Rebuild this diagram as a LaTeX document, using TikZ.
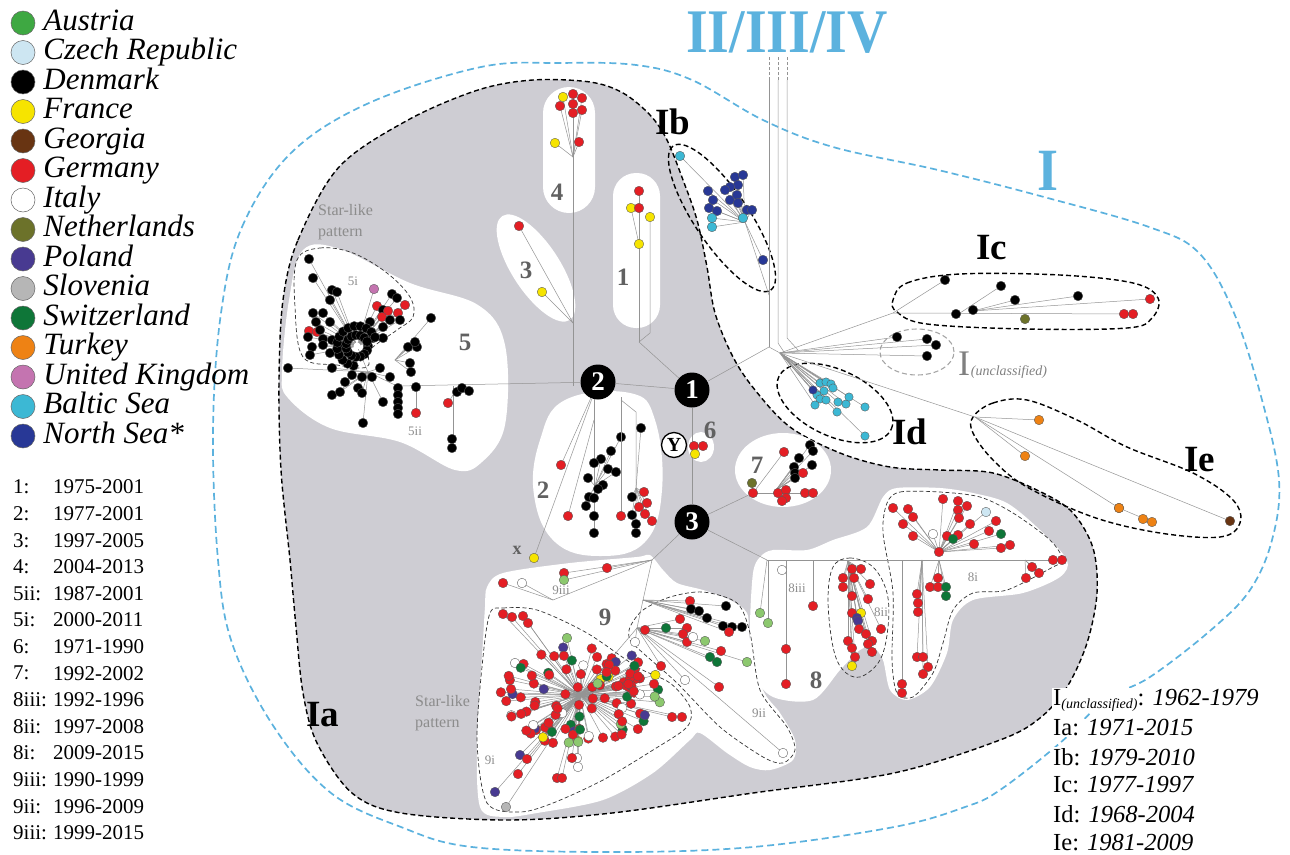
\documentclass[tikz,border=0pt]{standalone}
\usepackage{fontspec}
\setmainfont{Liberation Serif}
\usetikzlibrary{positioning}

\definecolor{ltblue}{RGB}{92,178,222}
\definecolor{iagrey}{RGB}{206,205,211}
\definecolor{austria}{RGB}{62,168,66}
\definecolor{austrialt}{RGB}{140,200,110}
\definecolor{czech}{RGB}{205,230,242}
\definecolor{denmark}{RGB}{0,0,0}
\definecolor{france}{RGB}{246,228,0}
\definecolor{georgia}{RGB}{104,52,18}
\definecolor{germany}{RGB}{228,30,36}
\definecolor{italy}{RGB}{255,255,255}
\definecolor{dutch}{RGB}{108,114,42}
\definecolor{poland}{RGB}{72,58,145}
\definecolor{slovenia}{RGB}{182,182,182}
\definecolor{swiss}{RGB}{14,118,56}
\definecolor{turkey}{RGB}{238,130,20}
\definecolor{ukpink}{RGB}{196,116,176}
\definecolor{baltic}{RGB}{60,184,212}
\definecolor{northsea}{RGB}{40,56,150}

% one haplotype dot, and a fan of links from a junction to a list of dots
\newcommand\hdot[4][4.8]{\filldraw[fill=#4, draw=black!65, line width=.35pt] (#2,#3) circle[radius=#1];}
\newcommand\fan[3][4.8]{%
  \foreach \x/\y/\col in {#3}{\draw[link] (#2) -- (\x,\y);}%
  \foreach \x/\y/\col in {#3}{\hdot[#1]{\x}{\y}{\col}}}
\newcommand\pts[2][4.8]{\foreach \x/\y/\col in {#2}{\hdot[#1]{\x}{\y}{\col}}}

\begin{document}
\begin{tikzpicture}[x=1pt, y=-1pt,
    link/.style={draw=black!42, line width=0.5pt},
    hub/.style={circle, fill=black, text=white, inner sep=0pt, minimum size=35pt, font=\bfseries\fontsize{27}{27}\selectfont},
    ynode/.style={circle, draw=black, line width=1.3pt, fill=white, inner sep=0pt, minimum size=25pt, font=\bfseries\fontsize{20}{20}\selectfont},
    cladeline/.style={draw=black, line width=1.4pt, dash pattern=on 5pt off 3pt},
    subline/.style={draw=black!80, line width=.7pt, dash pattern=on 4pt off 2.5pt},
    blob/.style={fill=white},
    grouplbl/.style={text=black!62, font=\bfseries\fontsize{25}{25}\selectfont, inner sep=0pt},
    sublbl/.style={text=black!45, font=\fontsize{13}{13}\selectfont, inner sep=0pt},
    starlbl/.style={text=black!45, font=\fontsize{16}{21}\selectfont, inner sep=0pt, align=left, anchor=west},
    cladelbl/.style={font=\bfseries\fontsize{37}{37}\selectfont, inner sep=0pt},
    legdot/.style={circle, draw=black!60, line width=.5pt, minimum size=24pt, inner sep=0pt},
    legtext/.style={font=\itshape\fontsize{31}{31}\selectfont, inner sep=0pt, text height=21pt, text depth=7pt},
    datetxt/.style={font=\fontsize{21}{21}\selectfont, inner sep=0pt, anchor=west},
    agetxt/.style={font=\fontsize{24.5}{24.5}\selectfont, anchor=west, fill=white, inner sep=1pt}
]
    \useasboundingbox (0,0) rectangle (1290,854);

    % clade I outline
    \draw[ltblue, line width=1.7pt, dash pattern=on 7pt off 4pt] plot[smooth cycle, tension=.6] coordinates {(221,313) (242,227) (291,153) (369,103) (481,67) (560,63) (636,65) (692,80) (763,120) (833,147) (938,170) (1044,197) (1149,227) (1199,253) (1234,313) (1262,400) (1279,480) (1272,540) (1250,590) (1211,630) (1150,677) (1105,700) (1060,743) (1000,790) (965,807) (894,827) (753,847) (612,852) (472,847) (401,827) (331,793) (274,727) (232,643) (218,560) (213,430)};

    % clade Ia
    \filldraw[fill=iagrey, cladeline] plot[smooth cycle, tension=.55] coordinates {(283,300) (298,240) (339,167) (408,120) (478,90) (533,80) (590,82) (623,93) (650,115) (667,140) (683,180) (697,220) (707,267) (715,313) (733,357) (755,390) (790,427) (840,453) (890,467) (940,470) (993,473) (1043,493) (1073,513) (1093,548) (1097,593) (1087,643) (1067,687) (1040,718) (1000,740) (894,773) (753,793) (612,813) (507,820) (401,813) (352,793) (317,743) (303,693) (296,627) (290,560) (281,470) (279,380)};

    % white group areas
    \fill[blob, rounded corners=26pt] (543,87) rectangle (595,213);
    \fill[blob, rounded corners=23pt] (613,173) rectangle (660,328);
    \fill[blob, rotate around={-57:(536,268)}] (536,268) ellipse[x radius=62pt, y radius=24pt];
    \fill[blob] plot[smooth cycle, tension=.7] coordinates {(565,400) (630,393) (655,420) (662,490) (645,542) (600,556) (555,542) (534,495) (540,440)};
    \fill[blob] (701,447) ellipse[x radius=13pt, y radius=15pt];
    \fill[blob] (783,470) ellipse[x radius=48pt, y radius=37pt];
    \fill[blob] plot[smooth cycle, tension=.6] coordinates {(282,372) (289,300) (303,250) (340,249) (410,283) (478,305) (505,345) (505,425) (482,462) (455,470) (400,442) (330,428) (288,398)};
    \fill[blob] plot[smooth cycle, tension=.5] coordinates {(487,587) (503,573) (570,563) (637,557) (650,555) (663,570) (677,583) (703,590) (730,600) (747,613) (750,640) (763,690) (780,713) (795,740) (793,760) (770,770) (750,767) (727,753) (700,733) (690,740) (653,773) (603,800) (537,813) (503,817) (480,807) (477,740) (483,640) (485,607)};
    \fill[blob] plot[smooth cycle, tension=.5] coordinates {(760,557) (773,550) (807,550) (833,540) (867,527) (883,497) (897,488) (940,488) (973,493) (1007,503) (1040,530) (1067,560) (1060,577) (1023,593) (973,600) (953,620) (947,653) (930,687) (907,700) (890,690) (883,660) (873,647) (860,650) (840,670) (813,700) (773,697) (753,673) (750,627) (753,573)};

    % sub-group and clade outlines
    \draw[subline] plot[smooth cycle, tension=.6] coordinates {(297,260) (320,248) (353,253) (387,273) (410,297) (413,317) (397,330) (370,350) (367,367) (337,365) (303,357) (295,307)};
    \draw[subline] plot[smooth cycle, tension=.5] coordinates {(490,613) (503,608) (537,610) (587,633) (637,667) (670,683) (690,707) (687,727) (653,750) (603,780) (553,803) (520,812) (487,803) (477,740) (483,657)};
    \draw[subline] plot[smooth cycle, tension=.5] coordinates {(630,627) (643,610) (670,597) (703,592) (737,603) (750,633) (760,690) (787,727) (795,750) (783,763) (763,757) (720,727) (677,683) (643,653) (630,640)};
    \draw[subline] plot[smooth cycle, tension=.6] coordinates {(833,567) (850,558) (873,567) (887,593) (888,627) (880,660) (860,677) (843,670) (833,647) (828,600)};
    \draw[subline] plot[smooth cycle, tension=.5] coordinates {(887,503) (900,492) (940,492) (980,497) (1013,513) (1050,540) (1063,560) (1053,567) (1007,590) (973,593) (953,610) (943,643) (933,673) (913,697) (897,693) (892,660) (893,593) (883,533)};
    \draw[cladeline, rotate around={-56:(722,218)}] (722,218) ellipse[x radius=87pt, y radius=27pt];
    \draw[cladeline, rotate around={-25:(835,403)}] (835,403) ellipse[x radius=62pt, y radius=33pt];
    \draw[black!35, line width=1.1pt, dash pattern=on 5pt off 3pt] (917,352) ellipse[x radius=37pt, y radius=23pt];
    \draw[cladeline] plot[smooth cycle, tension=.6] coordinates {(893,300) (907,283) (960,274) (1060,275) (1133,283) (1158,298) (1152,318) (1127,328) (1027,329) (927,324) (897,312)};
    \draw[cladeline] plot[smooth cycle, tension=.6] coordinates {(973,417) (993,403) (1027,400) (1077,420) (1127,447) (1193,473) (1233,500) (1240,523) (1220,537) (1160,533) (1093,517) (1027,487) (993,460) (973,433)};

    % central haplotypes
    \node[hub] (n1) at (692,390) {1};
    \node[hub] (n2) at (598,382) {2};
    \node[hub] (n3) at (692,522) {3};
    \node[ynode] (ny) at (674,445) {Y};

    \coordinate (s5) at (357,346);
    \coordinate (c5) at (368,372);
    \coordinate (h5) at (397,386);
    \coordinate (c5b) at (395,360);
    \coordinate (d5) at (453,395);
    \coordinate (j4) at (573,157);
    \coordinate (j3) at (573,323);
    \coordinate (j1) at (639,342);
    \coordinate (j2b) at (595,486);
    \coordinate (j2c) at (636,488);
    \coordinate (jI) at (769,347);
    \coordinate (jd) at (780,353);
    \coordinate (jb0) at (769,295);
    \coordinate (jb) at (745,222);
    \coordinate (jc) at (893,313);
    \coordinate (jc2) at (960,313);
    \coordinate (jc3) at (973,311);
    \coordinate (je) at (975,417);
    \coordinate (j7) at (753,493);
    \coordinate (j7b) at (776,490);
    \coordinate (j8) at (767,560);
    \coordinate (j8ii) at (848,561);
    \coordinate (j8a) at (922,560);
    \coordinate (j8b) at (939,560);
    \coordinate (j8c) at (1025,560);
    \coordinate (j8u) at (939,552);
    \coordinate (j9) at (652,560);
    \coordinate (j9b) at (643,600);
    \coordinate (j9c) at (637,628);
    \coordinate (j9iii) at (553,600);
    \coordinate (s9) at (580,695);

    % backbone
    \draw[link] (c5) -- (s5);
    \draw[link] (c5) -- (h5) -- (n2) -- (n1);
    \draw[link] (n1) -- (n3);
    \draw[link] (n1) -- (j1);
    \draw[link] (n1) -- (jI) -- (jd);
    \draw[link] (n3) -- (j7);
    \draw[link] (n3) -- (j8);
    \draw[link] (n3) -- (j9) -- (j9b) -- (j9c) -- (s9);

    % group 5
    \draw[link] (398,386) -- (398,413);
    \draw[link] (416,386) -- (416,413);
    \draw[link] (453,386) -- (453,448);
    \fan{s5}{309/259/denmark, 313/278/denmark, 332/290/denmark, 337/292/denmark, 330/300/denmark,
      313/313/denmark, 323/313/denmark, 316/322/denmark, 330/322/denmark, 309/331/germany,
      317/332/germany, 320/330/denmark, 308/337/denmark, 323/339/denmark, 332/340/denmark,
      312/347/denmark, 323/345/denmark, 340/347/denmark, 330/353/denmark, 310/355/denmark,
      374/289/ukpink, 392/294/denmark, 397/298/denmark, 377/306/germany, 405/305/germany,
      383/310/denmark, 388/311/germany, 398/313/germany, 382/317/germany, 390/320/denmark,
      400/320/denmark, 383/327/denmark, 370/322/denmark, 383/338/denmark, 373/338/denmark}
    \fan{c5}{288/368/denmark, 332/368/denmark, 352/375/denmark, 362/377/denmark, 372/377/denmark,
      380/368/denmark, 390/377/denmark, 332/395/denmark, 340/392/denmark, 345/382/denmark,
      358/388/denmark, 362/393/denmark, 383/402/denmark, 363/423/denmark}
    \fan{c5b}{431/318/denmark, 408/347/denmark, 417/347/denmark, 415/342/denmark, 410/363/denmark, 411/372/denmark}
    \fan{d5}{457/392/denmark, 462/388/denmark, 469/391/denmark, 448/403/germany}
    \pts{398/388/denmark, 398/395/denmark, 398/402/denmark, 398/408/denmark, 398/414/denmark,
      416/387/denmark, 416/413/germany, 452/439/denmark, 452/448/denmark}
    \foreach \a in {0,24,...,336}{
        \pgfmathsetmacro\rx{357+11*cos(\a)}
        \pgfmathsetmacro\ry{346+11*sin(\a)}
        \hdot{\rx}{\ry}{denmark}}
    \foreach \a in {100,118,...,350}{
        \pgfmathsetmacro\rx{357+20*cos(\a)}
        \pgfmathsetmacro\ry{346+20*sin(\a)}
        \hdot{\rx}{\ry}{denmark}}
    \fill[white] (357,346) circle[radius=3.5];

    % groups 4, 3, 1
    \draw[link] (573,386) -- (j4);
    \fan{j4}{563/97/france, 573/94/germany, 582/98/germany, 560/106/germany, 573/104/germany,
      582/110/germany, 573/113/germany, 579/142/germany, 555/143/france}
    \fan{j3}{519/226/germany, 542/292/france}
    \draw[link] (j1) -- (639,191);
    \draw[link] (j1) -- (650,333) -- (650,217);
    \draw[link] (639,244) -- (631,208);
    \pts{639/191/germany, 631/208/france, 639/208/germany, 650/217/france, 639/244/france}

    % group 2
    \fan{n2}{561/465/germany, 534/558/france}
    \draw[link] (594,399) -- (594,533);
    \draw[link] (594,420) -- (568,516);
    \fan{j2b}{621/437/denmark, 611/451/denmark, 601/459/denmark, 608/469/denmark, 616/472/denmark,
      588/478/denmark, 603/485/denmark, 598/489/denmark, 589/497/denmark}
    \pts{568/516/germany, 594/463/denmark, 594/498/denmark, 594/516/denmark, 594/533/denmark, 586/506/denmark}
    \draw[link] (621,397) -- (621,516);
    \draw[link] (621,400) -- (636,412) -- (636,533);
    \fan{j2c}{641/428/denmark, 644/492/germany, 647/503/germany, 639/507/germany, 645/514/germany,
      652/521/germany, 632/497/denmark, 632/515/denmark}
    \pts{621/516/germany, 636/524/denmark, 636/533/denmark}

    % group 6
    \pts{694/446/germany, 703/446/germany, 695/454/france}

    % clade I: Ib, Ic, I(unclassified), Id, Ie
    \draw[link] (jI) -- (769,80);
    \draw[link] (784,352) -- (778,343) -- (778,80);
    \draw[link] (798,350) -- (787,338) -- (787,80);
    \draw[link, densely dashed] (769,80) -- (769,57) (778,80) -- (778,57) (787,80) -- (787,57);
    \draw[link] (jb0) -- (jb);
    \fan{jb}{680/156/baltic, 735/177/northsea, 743/175/northsea, 738/185/northsea, 730/187/northsea,
      725/190/northsea, 708/191/northsea, 713/200/northsea, 730/200/northsea, 737/195/northsea,
      738/203/northsea, 709/208/northsea, 717/211/northsea, 747/210/northsea, 752/210/northsea,
      763/260/northsea, 712/218/baltic, 712/227/baltic, 743/218/baltic}
    \draw[link] (jd) -- (jc);
    \draw[link] (jc) -- (1133,314);
    \fan{jc}{945/280/denmark}
    \fan{jc2}{1001/286/denmark}
    \fan{jc3}{1015/300/denmark, 1078/296/denmark, 1150/299/germany}
    \pts{956/314/denmark, 973/310/denmark, 1124/314/germany, 1133/314/germany, 1025/319/dutch}
    \fan{jd}{897/337/denmark, 927/339/denmark, 936/345/denmark, 927/356/denmark}
    \fan[4.2]{jd}{820/383/baltic, 826/382/baltic, 831/384/baltic, 833/388/baltic, 824/391/baltic,
      817/395/baltic, 820/399/baltic, 826/400/baltic, 815/405/baltic, 838/402/baltic,
      846/404/baltic, 849/397/baltic, 837/412/baltic, 865/407/baltic, 865/436/baltic, 813/390/northsea}
    \draw[link] (jd) -- (je);
    \fan{je}{1039/420/turkey, 1025/456/turkey, 1119/508/turkey, 1230/521/georgia}
    \draw[link] (1119,508) -- (1152,522);
    \pts{1119/508/turkey, 1143/519/turkey, 1152/522/turkey}

    % group 7
    \draw[link] (j7) -- (813,493);
    \fan{j7}{752/483/dutch, 784/452/germany}
    \fan{j7b}{810/445/denmark, 813/451/denmark, 799/458/denmark, 812/465/denmark, 794/467/denmark,
      795/473/denmark, 795/478/denmark, 803/473/germany}
    \pts{753/493/germany, 778/493/germany, 786/490/germany, 786/498/germany, 782/501/germany, 805/493/germany, 813/493/germany}

    % group 8
    \draw[link] (j8) -- (1062,560);
    \draw[link] (768,560) -- (768,623);
    \draw[link] (767,560) -- (760,613);
    \draw[link] (786,560) -- (786,684);
    \draw[link] (813,560) -- (813,606);
    \pts{768/623/austrialt, 760/613/austrialt, 782/570/italy, 786/649/germany, 786/684/germany, 813/606/germany}
    \fan{j8ii}{852/569/germany, 861/569/germany, 843/578/germany, 854/578/germany, 843/587/germany,
      870/584/germany, 852/596/germany, 868/599/germany, 861/613/france, 852/613/germany,
      857/618/poland, 858/621/poland, 859/629/germany, 866/634/germany, 881/629/germany,
      848/641/germany, 872/641/germany, 868/644/germany, 872/652/germany, 852/648/germany,
      855/657/germany, 852/666/france}
    \draw[link] (902,560) -- (902,693);
    \pts{902/684/germany, 902/693/germany}
    \fan{j8a}{917/594/germany, 918/603/germany, 918/612/germany, 917/657/germany, 923/657/germany,
      928/667/germany, 923/674/germany}
    \fan{j8b}{938/578/germany, 930/587/germany, 938/587/germany, 946/587/swiss, 946/596/swiss}
    \fan{j8c}{1032/567/germany, 1039/573/germany, 1026/578/germany}
    \pts{1053/560/germany, 1062/560/germany}
    \fan{j8u}{893/508/germany, 908/509/germany, 913/517/germany, 903/524/germany, 913/536/germany,
      943/499/germany, 958/501/germany, 967/506/germany, 958/510/germany, 959/518/germany,
      970/524/germany, 947/536/germany, 958/535/germany, 974/544/germany, 996/521/germany,
      989/531/germany, 1001/548/germany, 1010/545/germany, 933/534/italy, 986/512/czech,
      1001/534/swiss, 953/539/swiss}
    \pts{939/552/germany}

    % group 9
    \draw[link] (j9) -- (j9iii);
    \fan{j9}{607/568/germany, 564/573/germany, 564/580/austrialt}
    \fan{j9iii}{503/583/germany, 522/583/italy}
    \fan{j9b}{690/601/germany, 691/609/denmark, 699/611/denmark, 707/618/denmark, 726/606/denmark,
      723/626/denmark, 732/627/denmark, 742/627/denmark, 729/632/germany}
    \fan{j9c}{680/619/germany, 687/628/germany, 683/634/germany, 687/642/germany, 645/630/germany,
      666/628/swiss, 693/637/italy, 635/642/italy, 685/680/italy, 783/753/italy,
      705/641/austrialt, 747/662/austrialt, 721/651/germany, 710/657/swiss, 717/662/swiss,
      661/666/germany, 719/687/germany}
    \pgfmathsetseed{2718}
    \foreach \i in {1,...,115}{
        \pgfmathsetmacro\ang{360*rnd}
        \pgfmathsetmacro\rad{8+56*sqrt(rnd)}
        \pgfmathtruncatemacro\kk{100*rnd}
        \draw[link] (s9) -- ({580+1.3*\rad*cos(\ang)},{695+0.8*\rad*sin(\ang)});}
    \fan{s9}{503/614/germany, 512/617/germany, 523/616/germany, 528/623/germany, 567/638/austrialt,
      520/755/poland, 495/792/poland, 506/807/slovenia, 527/759/germany, 518/774/germany,
      557/778/germany, 562/778/germany, 577/758/italy, 578/767/italy, 572/758/germany,
      578/741/france, 672/717/germany, 682/717/germany, 515/663/italy}
    \pgfmathsetseed{2718}
    \foreach \i in {1,...,115}{
        \pgfmathsetmacro\ang{360*rnd}
        \pgfmathsetmacro\rad{8+56*sqrt(rnd)}
        \pgfmathtruncatemacro\kk{100*rnd}
        \pgfmathsetmacro\sx{580+1.3*\rad*cos(\ang)}
        \pgfmathsetmacro\sy{695+0.8*\rad*sin(\ang)}
        \ifnum\kk<58 \def\col{germany}\else\ifnum\kk<72 \def\col{swiss}\else\ifnum\kk<82 \def\col{poland}\else\ifnum\kk<91 \def\col{italy}\else\ifnum\kk<96 \def\col{france}\else\def\col{austrialt}\fi\fi\fi\fi\fi
        \hdot{\sx}{\sy}{\col}}

    % labels in the network
    \node[grouplbl] (lbl4) at (557,192) {4};
    \node[grouplbl] (lbl3) at (526,270) {3};
    \node[grouplbl] (lbl1) at (623,277) {1};
    \node[grouplbl] (lbl2) at (543,490) {2};
    \node[grouplbl] (lbl5) at (465,342) {5};
    \node[grouplbl] (lbl6) at (710,430) {6};
    \node[grouplbl] (lbl7) at (757,465) {7};
    \node[grouplbl] (lbl8) at (816,680) {8};
    \node[grouplbl] (lbl9) at (605,617) {9};
    \node[grouplbl, font=\bfseries\fontsize{18}{18}\selectfont] (lblx) at (517,550) {x};
    \node[sublbl] (l5i) at (353,281) {5i};
    \node[sublbl] (l5ii) at (415,431) {5ii};
    \node[sublbl] (l9iii) at (561,590) {9iii};
    \node[sublbl] (l9ii) at (759,713) {9ii};
    \node[sublbl] (l9i) at (490,760) {9i};
    \node[sublbl] (l8iii) at (797,588) {8iii};
    \node[sublbl] (l8ii) at (881,612) {8ii};
    \node[sublbl] (l8i) at (973,577) {8i};
    \node[starlbl] (star1) at (318,222) {Star-like\\pattern};
    \node[starlbl] (star2) at (415,713) {Star-like\\pattern};

    \node[cladelbl] (lIa) at (323,715) {Ia};
    \node[cladelbl] (lIb) at (673,122) {Ib};
    \node[cladelbl] (lIc) at (992,248) {Ic};
    \node[cladelbl] (lId) at (910,432) {Id};
    \node[cladelbl] (lIe) at (1200,460) {Ie};
    \node[text=black!50, font=\fontsize{36}{36}\selectfont, inner sep=0pt] (lIu) at (964,364) {I};
    \node[anchor=base west, text=black!50, font=\itshape\fontsize{14}{14}\selectfont, inner sep=.5pt] (lIusub) at (lIu.base east) {(unclassified)};
    \node[text=ltblue, font=\bfseries\fontsize{62}{62}\selectfont, xscale=.9, inner sep=0pt] (ttl) at (787,33) {II/III/IV};
    \node[text=ltblue, font=\bfseries\fontsize{60}{60}\selectfont, xscale=.9, inner sep=0pt] (lI) at (1048,171) {I};

    % legend
    \foreach \col/\nm [count=\i] in {austria/Austria, czech/Czech Republic, denmark/Denmark, france/France,
        georgia/Georgia, germany/Germany, italy/Italy, dutch/Netherlands, poland/Poland,
        slovenia/Slovenia, swiss/Switzerland, turkey/Turkey, ukpink/United Kingdom,
        baltic/Baltic Sea, northsea/North Sea*}{
        \pgfmathsetmacro\yy{23+29.5*(\i-1)}
        \node[legdot, fill=\col] (ld\i) at (23,\yy) {};
        \node[legtext, right=8pt of ld\i] (lt\i) {\nm};
    }
    \foreach \gk/\yr [count=\i] in {1/1975-2001, 2/1977-2001, 3/1997-2005, 4/2004-2013, 5ii/1987-2001,
        5i/2000-2011, 6/1971-1990, 7/1992-2002, 8iii/1992-1996, 8ii/1997-2008, 8i/2009-2015,
        9iii/1990-1999, 9ii/1996-2009, 9iii/1999-2015}{
        \pgfmathsetmacro\yy{487+26.6*(\i-1)}
        \node[datetxt] (dk\i) at (13,\yy) {\gk:};
        \node[datetxt] (dy\i) at (53,\yy) {\yr};
    }
    \node[agetxt] (ageU) at (1052,700) {I{\fontsize{14}{14}\selectfont\itshape\raisebox{-3pt}{(unclassified)}}: \textit{1962-1979}};
    \node[agetxt] (ageA) at (1052,728) {Ia: \textit{1971-2015}};
    \node[agetxt] (ageB) at (1052,757) {Ib: \textit{1979-2010}};
    \node[agetxt] (ageC) at (1052,785) {Ic: \textit{1977-1997}};
    \node[agetxt] (ageD) at (1052,814) {Id: \textit{1968-2004}};
    \node[agetxt] (ageE) at (1052,843) {Ie: \textit{1981-2009}};
\end{tikzpicture}
\end{document}
